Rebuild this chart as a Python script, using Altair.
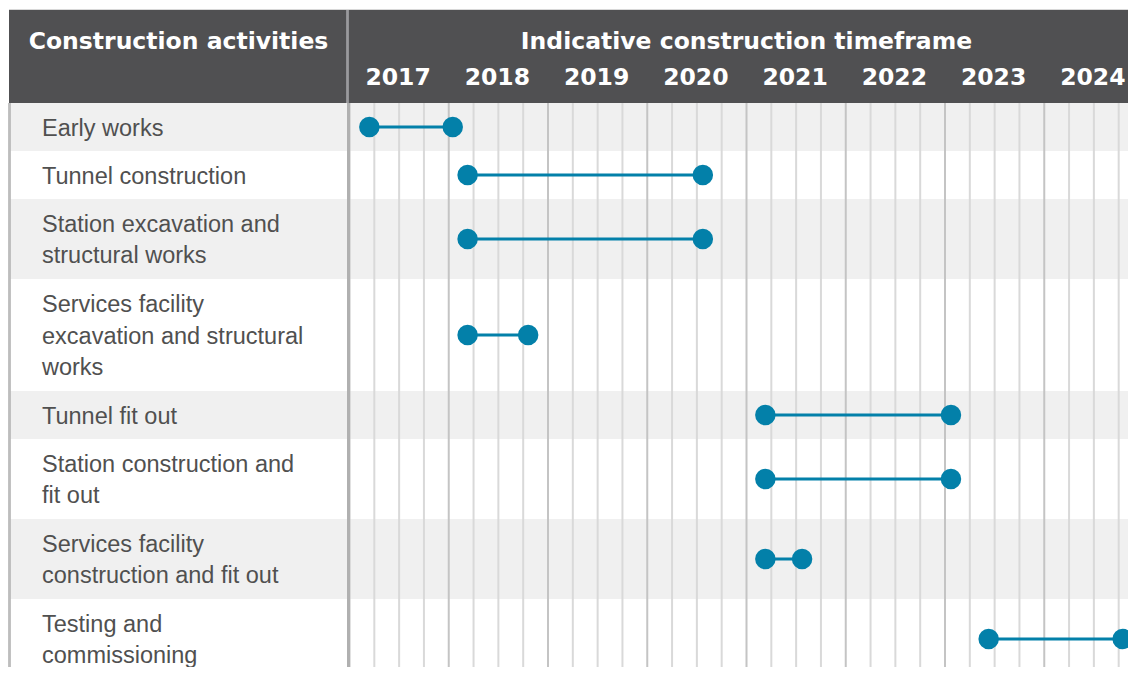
import altair as alt
import pandas as pd

# ---- data ----
activity_lines = [
    ["Early works"],
    ["Tunnel construction"],
    ["Station excavation and", "structural works"],
    ["Services facility", "excavation and structural", "works"],
    ["Tunnel fit out"],
    ["Station construction and", "fit out"],
    ["Services facility", "construction and fit out"],
    ["Testing and", "commissioning"],
]
start_year = [2017.20, 2018.19, 2018.19, 2018.19, 2021.19, 2021.19, 2021.19, 2023.44]
end_year = [2018.04, 2020.56, 2020.56, 2018.80, 2023.06, 2023.06, 2021.56, 2024.79]
years = [2017, 2018, 2019, 2020, 2021, 2022, 2023, 2024]
header_left = "Construction activities"
header_right = "Indicative construction timeframe"

# ---- layout ----
W, H = 1120, 659
X0 = 341.5          # pixel where 2017 begins
PX_PER_YEAR = 99.25
HEADER_TOP, HEADER_BOTTOM = 2, 95
LINE_H = 31.5
TEXT_DY = 1.5

x_scale = alt.Scale(domain=[2017 - X0 / PX_PER_YEAR, 2017 + (W - X0) / PX_PER_YEAR], range=[0, W], nice=False, zero=False)
y_scale = alt.Scale(domain=[0, H], range=[0, H], nice=False, zero=False)

rows, lines = [], []
top = HEADER_BOTTOM
for i, ls in enumerate(activity_lines):
    h = 16 + 32 * len(ls)
    mid = top + h / 2
    rows.append({"top": top, "bottom": top + h, "mid": mid,
                 "start": start_year[i], "end": end_year[i], "odd": i % 2 == 0})
    n = len(ls)
    for j, s in enumerate(ls):
        lines.append({"text": s, "y": mid + TEXT_DY + (j - (n - 1) / 2) * LINE_H})
    top += h
rows_df = pd.DataFrame(rows)
lines_df = pd.DataFrame(lines)

points_df = pd.concat([
    rows_df[["mid"]].assign(t=rows_df["start"]),
    rows_df[["mid"]].assign(t=rows_df["end"]),
])

year_lines_df = pd.DataFrame({"t": [float(y) for y in years]})
quarter_lines_df = pd.DataFrame({"t": [y + q / 4 for y in years for q in (1, 2, 3)]})
years_df = pd.DataFrame({"year": [str(y) for y in years], "t": [y + 0.5 for y in years]})

bands = alt.Chart(rows_df[rows_df["odd"]]).mark_rect(color="#f0f0f0").encode(
    x=alt.value(1), x2=alt.value(W),
    y=alt.Y("top:Q", scale=y_scale, axis=None),
    y2="bottom:Q",
)

quarter_rules = alt.Chart(quarter_lines_df).mark_rule(strokeWidth=2, color="#d9d9d9").encode(
    x=alt.X("t:Q", scale=x_scale, axis=None),
    y=alt.value(HEADER_BOTTOM), y2=alt.value(H),
)
year_rules = alt.Chart(year_lines_df).mark_rule(strokeWidth=2, color="#c4c4c4").encode(
    x=alt.X("t:Q", scale=x_scale, axis=None),
    y=alt.value(HEADER_BOTTOM), y2=alt.value(H),
)

left_border = alt.Chart(rows_df).mark_rule(strokeWidth=1.5, color="#bdbdbd").encode(
    x=alt.value(1.5), y=alt.value(HEADER_BOTTOM), y2=alt.value(H)
)
divider = alt.Chart(rows_df).mark_rule(strokeWidth=2, color="#b0b0b0").encode(
    x=alt.value(340.5), y=alt.value(HEADER_BOTTOM), y2=alt.value(H)
)

header_bg = alt.Chart(rows_df).mark_rect(color="#505052").encode(
    x=alt.value(1), x2=alt.value(W), y=alt.value(HEADER_TOP), y2=alt.value(HEADER_BOTTOM)
)
header_line = alt.Chart(rows_df).mark_rule(color="#d8d8d8", strokeWidth=1).encode(
    x=alt.value(1), x2=alt.value(W), y=alt.value(HEADER_TOP - 0.5)
)
header_div = alt.Chart(rows_df).mark_rule(color="#9a9a9c", strokeWidth=1.5).encode(
    x=alt.value(339.5), y=alt.value(HEADER_TOP), y2=alt.value(HEADER_BOTTOM)
)

hdr = dict(font="DejaVu Sans", fontWeight="bold", fontSize=23.5, color="#ffffff",
           align="center", baseline="middle")
header_left_txt = alt.Chart(pd.DataFrame({"t": [header_left]})).mark_text(**hdr).encode(
    text="t:N", x=alt.value(170.5), y=alt.value(34))

header_right_txt = alt.Chart(pd.DataFrame({"t": [header_right], "x": [(years[0] + years[-1] + 1) / 2]})).mark_text(**hdr).encode(
    text="t:N", x=alt.X("x:Q", scale=x_scale, axis=None), y=alt.value(34))

year_txt = alt.Chart(years_df).mark_text(dx=-1, **hdr).encode(
    text="year:N", x=alt.X("t:Q", scale=x_scale, axis=None), y=alt.value(70))

labels = alt.Chart(lines_df).mark_text(
    font="Liberation Sans", fontSize=23.5, color="#505050", align="left", baseline="middle"
).encode(
    text="text:N", x=alt.value(34), y=alt.Y("y:Q", scale=y_scale, axis=None)
)

seg = alt.Chart(rows_df).mark_rule(color="#0380a9", strokeWidth=3).encode(
    x=alt.X("start:Q", scale=x_scale, axis=None), x2="end:Q",
    y=alt.Y("mid:Q", scale=y_scale, axis=None),
)
dots = alt.Chart(points_df).mark_circle(color="#0380a9", size=420, opacity=1).encode(
    x=alt.X("t:Q", scale=x_scale, axis=None),
    y=alt.Y("mid:Q", scale=y_scale, axis=None),
)

chart = alt.layer(
    bands, quarter_rules, year_rules, left_border, divider, header_bg, header_line, header_div,
    header_left_txt, header_right_txt, year_txt, labels, seg, dots
).properties(
    width=W, height=H, padding=0, autosize=alt.AutoSizeParams(type="none")
).configure_view(stroke=None)

chart.save("out.html", embed_options={"renderer": "svg", "actions": False})
